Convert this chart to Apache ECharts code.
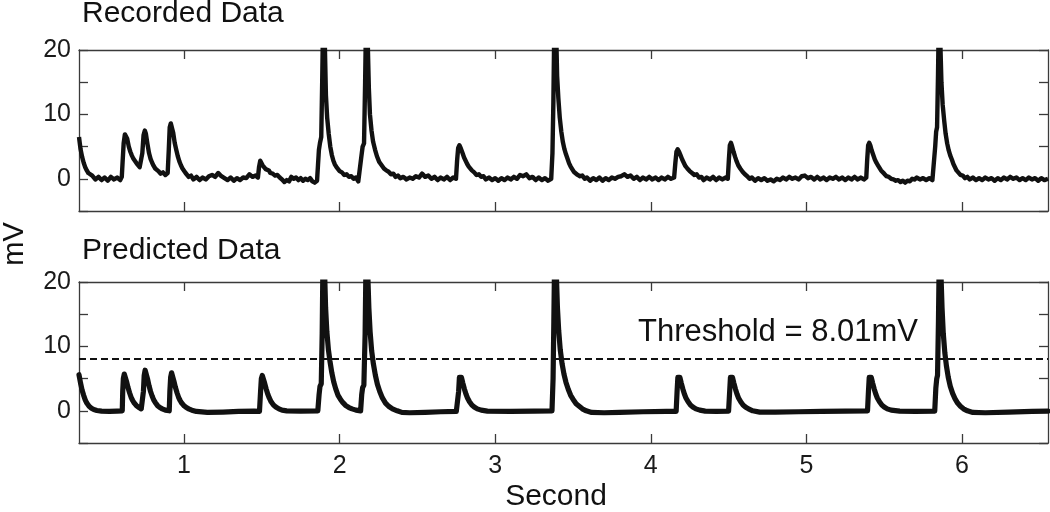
<!DOCTYPE html>
<html>
<head>
<meta charset="utf-8">
<script src="https://cdn.jsdelivr.net/npm/echarts@6/dist/echarts.min.js"></script>
<style>
html,body{margin:0;padding:0;background:#fff;}
#chart{width:1050px;height:512px;}
</style>
</head>
<body>
<div id="chart"></div>
<script>
// ---------- DATA ----------
const panelTitles = ['Recorded Data', 'Predicted Data'];
const xTickValues = [1, 2, 3, 4, 5, 6];
const yTickLabels = [0, 10, 20];
const thresholdMv = 8.01;
const thresholdText = 'Threshold = 8.01mV';
const xAxisName = 'Second';
const yAxisName = 'mV';

// Recorded trace (seconds, mV)
const recTime = [
  0.325,0.335,0.345,0.355,0.365,0.375,0.385,0.395,0.41,0.43,0.45,0.47,0.49,0.51,0.53,0.55,0.57,0.59,0.60,
  0.605,0.612,0.62,0.627,0.635,0.645,0.655,0.665,0.675,0.685,0.695,0.705,0.715,0.725,
  0.732,0.74,0.748,0.755,0.765,0.775,0.785,0.795,0.805,0.815,0.825,0.835,0.85,0.865,0.88,0.895,
  0.902,0.908,0.915,0.922,0.93,0.94,0.95,0.96,0.97,0.98,0.99,1.0,1.01,1.02,1.03,1.045,
  1.06,1.08,1.10,1.12,1.14,1.16,1.18,1.20,1.22,1.24,1.26,1.28,1.30,1.32,1.34,1.36,1.38,1.40,1.42,1.44,1.46,1.475,
  1.482,1.49,1.497,1.505,1.515,1.525,1.535,1.545,1.555,1.57,1.585,1.60,1.615,1.63,1.645,1.66,1.675,1.69,1.705,1.72,1.735,1.75,1.765,1.78,1.795,1.81,1.825,1.84,1.855,1.862,
  1.867,1.874,1.882,1.888,1.896,1.904,1.912,1.92,1.93,1.94,1.95,1.96,1.97,1.98,1.99,2.0,2.015,2.03,2.045,2.06,2.075,2.09,2.105,2.12,2.132,
  2.14,2.148,2.157,2.164,2.172,2.18,2.188,2.195,2.205,2.215,2.228,2.24,2.255,2.27,2.285,2.30,2.315,2.33,2.345,2.36,2.375,2.39,2.41,2.43,2.45,2.47,2.49,2.51,2.53,2.55,2.57,2.59,2.61,2.63,2.65,2.67,2.69,2.71,2.73,2.748,
  2.755,2.762,2.77,2.778,2.79,2.80,2.81,2.82,2.83,2.84,2.85,2.865,2.88,2.895,2.91,2.925,2.94,2.96,2.98,3.00,3.02,3.04,3.06,3.08,3.10,3.12,3.14,3.16,3.18,3.20,3.22,3.24,3.26,3.28,3.30,3.32,3.34,3.36,
  3.368,3.374,3.382,3.39,3.398,3.406,3.415,3.425,3.435,3.445,3.455,3.465,3.475,3.485,3.495,3.505,3.515,3.53,3.545,3.56,3.575,3.59,3.61,3.63,3.65,3.67,3.69,3.71,3.73,3.75,3.77,3.79,3.81,3.83,3.85,3.87,3.89,3.91,3.93,3.95,3.97,3.99,4.01,4.03,4.05,4.07,4.09,4.11,4.13,4.15,
  4.158,4.165,4.173,4.182,4.192,4.202,4.212,4.222,4.235,4.25,4.265,4.28,4.295,4.31,4.325,4.34,4.36,4.38,4.40,4.42,4.44,4.46,4.48,4.495,
  4.502,4.508,4.515,4.522,4.532,4.542,4.552,4.562,4.575,4.59,4.605,4.62,4.635,4.65,4.67,4.69,4.71,4.73,4.75,4.77,4.79,4.81,4.83,4.85,4.87,4.89,4.91,4.93,4.95,4.97,4.99,5.01,5.03,5.05,5.07,5.09,5.11,5.13,5.15,5.17,5.19,5.21,5.23,5.25,5.27,5.29,5.31,5.33,5.35,5.37,5.385,
  5.391,5.397,5.404,5.411,5.42,5.43,5.44,5.45,5.46,5.47,5.48,5.49,5.50,5.515,5.53,5.545,5.56,5.575,5.59,5.605,5.62,5.635,5.65,5.665,5.68,5.695,5.71,5.73,5.75,5.77,5.79,5.81,5.822,
  5.828,5.834,5.84,5.846,5.853,5.86,5.868,5.876,5.886,5.895,5.905,5.915,5.925,5.935,5.945,5.955,5.965,5.975,5.99,6.005,6.02,6.035,6.05,6.07,6.09,6.11,6.13,6.15,6.17,6.19,6.21,6.23,6.25,6.27,6.29,6.31,6.33,6.35,6.37,6.39,6.41,6.43,6.45,6.47,6.49,6.51,6.53,6.553
];
const recMv = [
  6.5,4.6,3.4,2.5,1.8,1.3,0.9,0.6,0.5,-0.1,0.3,-0.2,0.2,-0.3,0.3,-0.1,0.2,-0.2,0.3,
  2.5,5.5,6.9,7.1,6.2,5.0,4.2,3.6,3.1,2.8,2.4,2.2,1.8,1.6,
  4.0,6.8,7.5,7.0,5.4,4.0,3.1,2.5,2.0,1.6,1.3,1.2,0.8,1.0,0.6,0.9,
  4.5,8.0,8.6,8.5,7.2,5.6,4.5,3.5,2.7,2.1,1.6,1.3,0.9,0.7,0.3,0.5,
  -0.1,0.3,-0.2,0.2,-0.1,0.4,0.6,0.3,0.9,0.4,0.1,-0.2,0.2,-0.3,0.1,-0.2,0.2,0.1,0.7,0.3,0.5,0.2,
  1.8,2.8,2.7,2.1,1.8,1.5,1.2,1.3,0.9,0.8,0.5,0.6,0.2,-0.1,-0.5,-0.2,-0.4,0.3,0.0,0.2,-0.2,0.1,-0.3,0.0,-0.2,0.1,-0.4,-0.6,-0.3,0.0,
  4.5,5.6,6.5,15,28,22,13,9.5,7.0,5.0,3.7,2.8,2.2,1.8,1.5,1.2,1.0,0.6,0.7,0.3,0.4,0.0,0.2,-0.4,-0.2,
  3.5,5.0,5.5,15,28,22,14,10.0,7.5,5.8,4.5,3.5,2.6,2.1,1.6,1.3,1.1,0.7,0.8,0.3,0.5,0.1,0.3,-0.1,0.2,0.0,0.4,0.2,0.8,0.3,0.5,0.0,0.3,-0.2,0.2,-0.1,0.3,-0.2,0.2,0.0,
  2.8,4.8,5.2,4.8,4.0,3.3,2.8,2.3,1.9,1.6,1.3,1.0,0.6,0.7,0.3,0.4,-0.1,0.2,-0.2,0.1,-0.3,0.1,-0.2,0.2,-0.1,0.3,0.0,0.6,0.4,0.7,0.1,0.3,-0.2,0.2,-0.2,0.1,-0.3,0.0,
  4.0,12,28,25,16,12.5,9.5,7.3,5.7,4.6,3.8,3.1,2.4,1.9,1.5,1.1,0.8,0.6,0.4,0.5,0.0,0.2,-0.3,0.1,-0.2,0.2,-0.3,0.1,-0.2,0.2,0.0,0.3,0.4,0.7,0.3,0.5,0.0,0.3,-0.2,0.2,-0.1,0.3,-0.1,0.2,-0.2,0.2,-0.1,0.3,0.0,0.2,
  2.5,4.2,4.6,4.2,3.6,3.0,2.5,2.0,1.6,1.2,0.9,0.6,0.7,0.2,0.3,-0.2,0.2,-0.1,0.3,-0.2,0.2,-0.1,0.2,0.0,
  3.0,5.2,5.6,5.1,4.2,3.4,2.7,2.1,1.6,1.1,0.7,0.4,0.0,0.2,-0.3,0.1,-0.2,0.1,-0.3,-0.1,-0.4,0.0,-0.2,0.2,-0.1,0.3,0.0,0.2,-0.1,0.4,0.5,0.1,0.3,-0.1,0.3,-0.1,0.2,-0.2,0.2,0.0,0.3,-0.1,0.2,-0.2,0.2,-0.1,0.3,-0.1,0.2,-0.1,0.2,
  3.0,5.2,5.6,5.2,4.4,3.7,3.0,2.5,2.1,1.8,1.3,1.0,0.8,0.4,0.3,0.0,-0.1,-0.3,-0.2,-0.5,-0.3,-0.6,-0.3,-0.4,0.0,-0.1,0.2,-0.1,0.1,-0.2,0.1,-0.2,0.0,
  5.0,7.3,8.0,16,28,22,15,11.5,9.0,7.0,5.5,4.4,3.6,3.0,2.3,1.8,1.3,1.0,0.6,0.5,0.1,0.3,-0.1,0.2,-0.2,0.1,-0.2,0.2,-0.1,0.1,-0.3,0.1,-0.2,0.2,-0.1,0.3,0.0,0.2,-0.2,0.1,-0.2,0.2,-0.1,0.1,-0.3,0.1,-0.2,0.0
];

// Predicted trace (seconds, mV)
const predTime = [
  0.325,0.335,0.345,0.355,0.365,0.375,0.39,0.405,0.42,0.44,0.47,0.52,0.57,0.603,
  0.606,0.61,0.616,0.622,0.63,0.64,0.65,0.66,0.67,0.68,0.695,0.71,0.725,0.735,
  0.739,0.744,0.75,0.757,0.765,0.775,0.785,0.795,0.805,0.815,0.83,0.845,0.86,0.88,0.905,
  0.909,0.914,0.92,0.927,0.935,0.945,0.955,0.965,0.975,0.985,1.0,1.015,1.03,1.05,1.08,1.15,1.25,1.35,1.45,1.485,1.488,
  1.492,1.497,1.503,1.51,1.518,1.528,1.538,1.548,1.56,1.575,1.59,1.61,1.63,1.66,1.75,1.86,1.863,
  1.868,1.874,1.882,1.888,1.895,1.903,1.91,1.918,1.928,1.938,1.95,1.962,1.975,1.99,2.005,2.02,2.04,2.06,2.08,2.105,2.135,2.137,
  2.142,2.148,2.156,2.164,2.172,2.18,2.188,2.196,2.206,2.217,2.23,2.243,2.258,2.275,2.295,2.315,2.34,2.37,2.40,2.45,2.55,2.65,2.75,2.762,
  2.765,2.77,2.776,2.783,2.792,2.802,2.812,2.822,2.835,2.85,2.865,2.885,2.91,2.95,3.1,3.25,3.365,3.368,
  3.372,3.377,3.384,3.392,3.4,3.408,3.418,3.43,3.442,3.455,3.47,3.485,3.5,3.52,3.54,3.56,3.585,3.62,3.7,3.8,3.95,4.1,4.163,4.166,
  4.169,4.174,4.18,4.187,4.196,4.206,4.216,4.226,4.24,4.255,4.27,4.29,4.315,4.35,4.42,4.5,4.503,
  4.507,4.512,4.518,4.525,4.534,4.544,4.554,4.564,4.578,4.593,4.608,4.628,4.655,4.7,4.8,4.95,5.1,5.25,5.393,5.396,
  5.399,5.404,5.41,5.417,5.426,5.436,5.446,5.456,5.47,5.485,5.5,5.52,5.545,5.6,5.7,5.825,5.828,
  5.832,5.838,5.843,5.849,5.856,5.864,5.872,5.88,5.89,5.9,5.912,5.925,5.94,5.955,5.972,5.99,6.01,6.035,6.07,6.15,6.3,6.45,6.553
];
const predMv = [
  5.6,4.3,3.2,2.4,1.7,1.2,0.7,0.4,0.2,0.05,-0.05,-0.1,-0.05,0.0,
  3.0,5.0,5.7,5.5,4.6,3.6,2.8,2.1,1.6,1.2,0.8,0.5,0.3,0.2,
  3.0,5.5,6.3,6.0,5.0,3.9,3.0,2.3,1.7,1.3,0.8,0.5,0.3,0.1,0.0,
  3.0,5.2,5.9,5.6,4.6,3.6,2.8,2.1,1.6,1.2,0.8,0.5,0.3,0.1,-0.1,-0.25,-0.2,-0.1,-0.05,-0.1,-0.4,
  3.0,5.0,5.5,5.2,4.3,3.4,2.6,2.0,1.4,0.9,0.6,0.3,0.1,0.0,-0.05,0.0,-0.3,
  2.5,3.8,4.2,12,28,22,16,12.3,9.5,7.7,5.9,4.5,3.4,2.4,1.8,1.3,0.8,0.5,0.3,0.1,0.0,-0.3,
  2.5,3.6,4.0,12,28,22,16,12.3,9.3,7.3,5.5,4.1,3.0,2.0,1.2,0.7,0.3,0.0,-0.25,-0.3,-0.25,-0.15,-0.1,-0.3,
  3.0,5.2,5.5,5.2,4.3,3.4,2.6,2.0,1.4,0.9,0.6,0.3,0.1,-0.05,-0.1,-0.05,0.0,-0.3,
  5,14,28,22,16,12.5,9.5,7.3,5.7,4.4,3.3,2.4,1.8,1.1,0.7,0.3,0.0,-0.25,-0.3,-0.25,-0.15,-0.1,-0.1,-0.4,
  3.0,5.2,5.5,5.2,4.3,3.4,2.6,2.0,1.4,0.9,0.6,0.3,0.1,-0.05,-0.1,-0.05,-0.3,
  3.0,5.2,5.5,5.2,4.3,3.4,2.6,2.0,1.4,0.9,0.6,0.3,0.0,-0.2,-0.2,-0.15,-0.1,-0.05,0.0,-0.3,
  3.0,5.2,5.5,5.2,4.3,3.4,2.6,2.0,1.4,0.9,0.6,0.3,0.1,-0.05,-0.1,-0.05,-0.3,
  3.5,5.0,5.5,14,28,22,16,12.0,9.0,7.0,5.2,3.8,2.7,1.9,1.2,0.7,0.3,0.0,-0.25,-0.3,-0.2,-0.1,-0.05
];

// ---------- CHART ----------
const FONT = '"Liberation Sans", Arial, Helvetica, sans-serif';
const X_MIN = 0.325, X_MAX = 6.553;
const Y_MIN = -5, Y_MAX = 20;
const INK = '#111';
const FRAME = '#3a3a3a';

const recData = recTime.map((t, i) => [t, recMv[i]]);
const predData = predTime.map((t, i) => [t, predMv[i]]);

const grids = [
  { left: 79, top: 50, width: 969, height: 161 },
  { left: 79, top: 282, width: 969, height: 161 }
];

function xAxisFor(gridIndex, position, showLabels) {
  return {
    type: 'value', gridIndex, position, min: X_MIN, max: X_MAX,
    axisLine: { show: true, onZero: false, lineStyle: { color: FRAME, width: 1.3 } },
    axisTick: { show: true, inside: true, length: 9, customValues: xTickValues,
                lineStyle: { color: FRAME, width: 1.3 } },
    axisLabel: { show: showLabels, customValues: xTickValues, margin: 11,
                 fontFamily: FONT, fontSize: 25, color: '#1a1a1a' },
    splitLine: { show: false }
  };
}
function yAxisFor(gridIndex, position, showLabels) {
  return {
    type: 'value', gridIndex, position, min: Y_MIN, max: Y_MAX, interval: 5,
    axisLine: { show: true, onZero: false, lineStyle: { color: FRAME, width: 1.3 } },
    axisTick: { show: true, inside: true, length: 9, lineStyle: { color: FRAME, width: 1.3 } },
    axisLabel: { show: showLabels, margin: 8, fontFamily: FONT, fontSize: 25, color: '#1a1a1a',
                 formatter: v => (yTickLabels.indexOf(v) >= 0 ? String(v) : '') },
    splitLine: { show: false }
  };
}

const option = {
  backgroundColor: '#fff',
  animation: false,
  grid: grids,
  xAxis: [
    xAxisFor(0, 'bottom', false), xAxisFor(0, 'top', false),
    xAxisFor(1, 'bottom', true), xAxisFor(1, 'top', false)
  ],
  yAxis: [
    yAxisFor(0, 'left', true), yAxisFor(0, 'right', false),
    yAxisFor(1, 'left', true), yAxisFor(1, 'right', false)
  ],
  series: [
    {
      name: panelTitles[0], type: 'line', xAxisIndex: 0, yAxisIndex: 0,
      data: recData, showSymbol: false, symbol: 'none', clip: true,
      lineStyle: { color: INK, width: 4.4, join: 'round' }
    },
    {
      name: panelTitles[1], type: 'line', xAxisIndex: 2, yAxisIndex: 2,
      data: predData, showSymbol: false, symbol: 'none', clip: true,
      lineStyle: { color: INK, width: 5.2, join: 'round', cap: 'round' },
      markLine: {
        silent: true, symbol: ['none', 'none'], label: { show: false },
        lineStyle: { color: INK, width: 2.2, type: [7, 4] },
        data: [{ yAxis: thresholdMv }]
      }
    }
  ],
  graphic: [
    { type: 'text', x: 82, y: 14, style: { text: panelTitles[0], font: '30px ' + FONT, fill: '#111', verticalAlign: 'middle', textVerticalAlign: 'middle' } },
    { type: 'text', x: 82, y: 251, style: { text: panelTitles[1], font: '30px ' + FONT, fill: '#111', verticalAlign: 'middle', textVerticalAlign: 'middle' } },
    { type: 'text', x: 638, y: 332, style: { text: thresholdText, font: '31px ' + FONT, fill: '#111', verticalAlign: 'middle', textVerticalAlign: 'middle' } },
    { type: 'text', x: 556, y: 497, style: { text: xAxisName, font: '30px ' + FONT, fill: '#111', align: 'center', textAlign: 'center', verticalAlign: 'middle', textVerticalAlign: 'middle' } },
    { type: 'text', x: 15, y: 244, rotation: Math.PI / 2, style: { text: yAxisName, font: '29px ' + FONT, fill: '#111', align: 'center', textAlign: 'center', verticalAlign: 'middle', textVerticalAlign: 'middle' } }
  ]
};

const chart = echarts.init(document.getElementById('chart'), null, { renderer: 'canvas' });
chart.setOption(option);
</script>
</body>
</html>
